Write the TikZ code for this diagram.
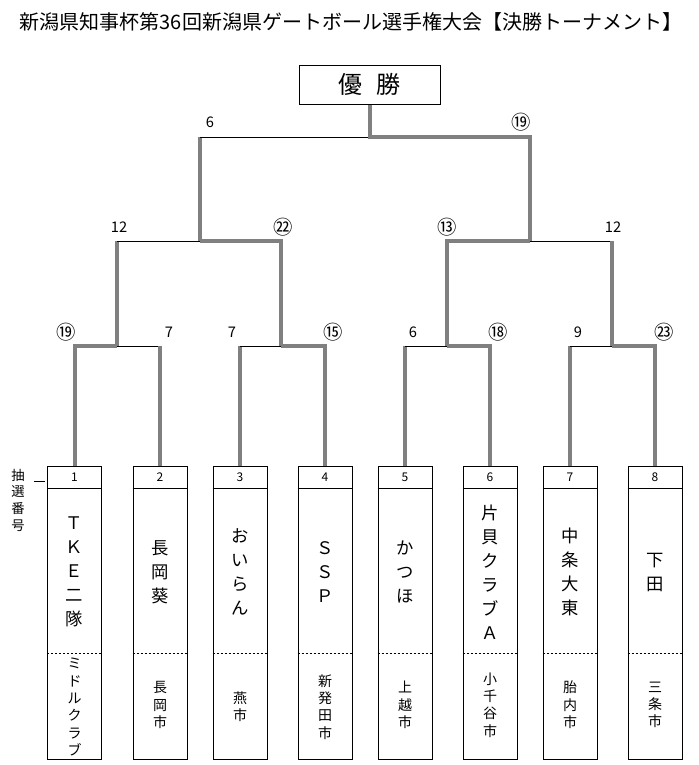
\documentclass[tikz,border=0pt]{standalone}
\usepackage{fontspec}
\setmainfont{Noto Sans CJK JP}
\begin{document}
\begin{tikzpicture}[x=0.75pt,y=-0.75pt,
	gline/.style={draw=gray, line width=3pt},
	tline/.style={draw=black, line width=0.75pt},
	teambox/.style={draw, line width=0.75pt, minimum width=40.5pt, minimum height=219.75pt, inner sep=0pt},
	numtxt/.style={font=\fontsize{9}{9}\selectfont, inner sep=0pt},
	nametxt/.style={font=\fontsize{13}{18}\selectfont, align=center, inner sep=0pt},
	citytxt/.style={font=\fontsize{10.5}{13}\selectfont, align=center, inner sep=0pt},
	score/.style={font=\fontsize{11}{11}\selectfont, inner sep=0pt},
	cscore/.style={font=\fontsize{14.5}{14.5}\selectfont, inner sep=0pt}]
	\useasboundingbox (0,0) rectangle (699,765);
	\node[font=\fontsize{15}{15}\selectfont] (title) at (351,22) {新潟県知事杯第36回新潟県ゲートボール選手権大会【決勝トーナメント】}; %título
	\node[draw, line width=0.75pt, minimum width=105.75pt, minimum height=29.25pt, font=\fontsize{18}{18}\selectfont] (win) at (369.5,84.5) {優\hspace{11pt}勝}; %優勝
	\node[font=\fontsize{10}{12.5}\selectfont, align=center, inner sep=0pt] (cho) at (18,500) {抽\\選\\番\\号};
	\coordinate (cho-e) at (45,481);
	\draw[tline] (cho-e) -- ++(-11,0);
	% equipos
	\node[teambox] (b1) at (74.5,612.5) {};
	\node[teambox] (b2) at (160,612.5) {};
	\node[teambox] (b3) at (240,612.5) {};
	\node[teambox] (b4) at (325,612.5) {};
	\node[teambox] (b5) at (405,612.5) {};
	\node[teambox] (b6) at (490,612.5) {};
	\node[teambox] (b7) at (570,612.5) {};
	\node[teambox] (b8) at (655,612.5) {};
	\foreach \b in {b1,b2,b3,b4,b5,b6,b7,b8}{
		\draw[tline] (\b.north west) ++(0,23) -- ++(54,0);
		\draw[tline, dash pattern=on 1.5pt off 1.5pt] (\b.north west) ++(0,188) -- ++(54,0);
	}
	\node[numtxt] (no1) at (74.5,477.5) {1};
	\node[numtxt] (no2) at (160,477.5) {2};
	\node[numtxt] (no3) at (240,477.5) {3};
	\node[numtxt] (no4) at (325,477.5) {4};
	\node[numtxt] (no5) at (405,477.5) {5};
	\node[numtxt] (no6) at (490,477.5) {6};
	\node[numtxt] (no7) at (570,477.5) {7};
	\node[numtxt] (no8) at (655,477.5) {8};
	\node[nametxt] (nm1) at (74.5,572) {Ｔ\\Ｋ\\Ｅ\\二\\隊};
	\node[nametxt] (nm2) at (160,572) {長\\岡\\葵};
	\node[nametxt] (nm3) at (240,572) {お\\い\\ら\\ん};
	\node[nametxt] (nm4) at (325,572) {Ｓ\\Ｓ\\Ｐ};
	\node[nametxt] (nm5) at (405,572) {か\\つ\\ほ};
	\node[nametxt] (nm6) at (490,572) {片\\貝\\ク\\ラ\\ブ\\Ａ};
	\node[nametxt] (nm7) at (570,572) {中\\条\\大\\東};
	\node[nametxt] (nm8) at (655,572) {下\\田};
	\node[citytxt] (ct1) at (74.5,707) {ミ\\ド\\ル\\ク\\ラ\\ブ};
	\node[citytxt] (ct2) at (160,705) {長\\岡\\市};
	\node[citytxt] (ct3) at (240,707) {燕\\市};
	\node[citytxt] (ct4) at (325,707) {新\\発\\田\\市};
	\node[citytxt] (ct5) at (405,705) {上\\越\\市};
	\node[citytxt] (ct6) at (490,705) {小\\千\\谷\\市};
	\node[citytxt] (ct7) at (570,705) {胎\\内\\市};
	\node[citytxt] (ct8) at (655,705) {三\\条\\市};
	% cruces
	\coordinate (m1) at (117,346);
	\coordinate (m2) at (281,346);
	\coordinate (m3) at (447,346);
	\coordinate (m4) at (612,346);
	\coordinate (s1) at (200,241);
	\coordinate (s2) at (530,241);
	\coordinate (f) at (369.5,137);
	% 1回戦
	\draw[gline] (b1.north) |- (m1);
	\draw[tline] (m1) -- (b2.north |- m1);
	\draw[gline] (b2.north |- m1) -- (b2.north);
	\draw[gline] (b3.north) -- (b3.north |- m2);
	\draw[tline] (b3.north |- m2) -- (m2);
	\draw[gline] (m2) -| (b4.north);
	\draw[gline] (b5.north) -- (b5.north |- m3);
	\draw[tline] (b5.north |- m3) -- (m3);
	\draw[gline] (m3) -| (b6.north);
	\draw[gline] (b7.north) -- (b7.north |- m4);
	\draw[tline] (b7.north |- m4) -- (m4);
	\draw[gline] (m4) -| (b8.north);
	% 準決勝
	\draw[gline] (m1) -- (m1 |- s1);
	\draw[tline] (m1 |- s1) -- (s1);
	\draw[gline] (s1) -| (m2);
	\draw[gline] (s2) -| (m3);
	\draw[tline] (s2) -- (s2 -| m4);
	\draw[gline] (s2 -| m4) -- (m4);
	% 決勝
	\draw[gline] (s1) -- (s1 |- f);
	\draw[tline] (s1 |- f) -- (f);
	\draw[gline] (win.south) -- (f) -| (s2);
	% puntos
	\node[cscore] (p1) at (66,332) {⑲};
	\node[score] (p2) at (169,332) {7};
	\node[score] (p3) at (232,332) {7};
	\node[cscore] (p4) at (333,332) {⑮};
	\node[score] (p5) at (413,332) {6};
	\node[cscore] (p6) at (498,332) {⑱};
	\node[score] (p7) at (578,332) {9};
	\node[cscore] (p8) at (664,332) {㉓};
	\node[score] (q1) at (119,227) {12};
	\node[cscore] (q2) at (283,227) {㉒};
	\node[cscore] (q3) at (447,227) {⑬};
	\node[score] (q4) at (613,227) {12};
	\node[score] (r1) at (210,122) {6};
	\node[cscore] (r2) at (521,122) {⑲};
\end{tikzpicture}
\end{document}
